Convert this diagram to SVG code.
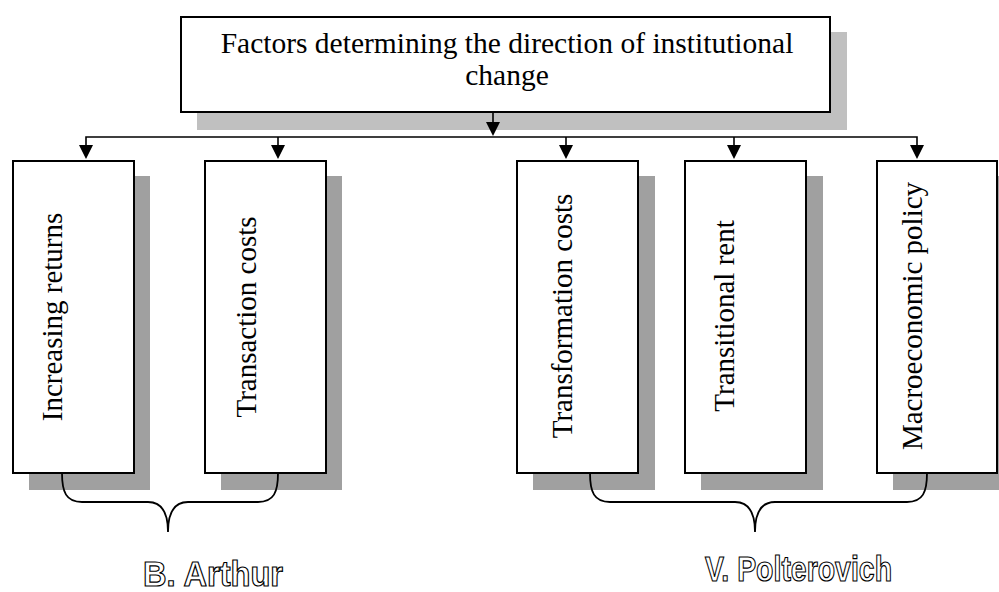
<svg xmlns="http://www.w3.org/2000/svg" width="999" height="592" viewBox="0 0 999 592">
<defs>
<style>
.box{fill:#fff;stroke:#000;stroke-width:2}
.sh{fill:#a0a0a0}
.sht{fill:#c0c0c0}
.t{font-family:"Liberation Serif","Times New Roman",serif;font-size:29.5px;fill:#000}
.v{font-family:"Liberation Serif","Times New Roman",serif;font-size:29px;fill:#000;text-anchor:middle}
.c{fill:none;stroke:#000;stroke-width:1.6}
.br{fill:none;stroke:#000;stroke-width:1.8}
.lab{font-family:"Liberation Sans",Arial,sans-serif;font-size:35px;font-weight:bold;fill:#fff;stroke:#000;stroke-width:1.2}
</style>
</defs>
<rect width="999" height="592" fill="#fff"/>

<g id="top">
<rect class="sht" x="197" y="32" width="650" height="98"/>
<rect class="box" x="181" y="17" width="649" height="95"/>
<text class="t" x="507" y="53" text-anchor="middle">Factors determining the direction of institutional</text>
<text class="t" x="507" y="85" text-anchor="middle">change</text>
</g>

<g id="connectors">
<line class="c" x1="493" y1="112" x2="493" y2="122"/>
<path d="M486,122 L500,122 L493,136 Z" fill="#000"/>
<polyline class="c" points="86,145 86,137 917,137 917,145"/>
<line class="c" x1="278" y1="137" x2="278" y2="145"/>
<line class="c" x1="566" y1="137" x2="566" y2="145"/>
<line class="c" x1="734" y1="137" x2="734" y2="145"/>
<path d="M79,145 L93,145 L86,159 Z M271,145 L285,145 L278,159 Z M559,145 L573,145 L566,159 Z M727,145 L741,145 L734,159 Z M910,145 L924,145 L917,159 Z" fill="#000"/>
</g>

<g id="n1">
<rect class="sh" x="29" y="176" width="121" height="314"/>
<rect class="box" x="13" y="161" width="121" height="312"/>
<text class="v" transform="translate(62,317) rotate(-90)">Increasing returns</text>
</g>
<g id="n2">
<rect class="sh" x="221" y="176" width="121" height="314"/>
<rect class="box" x="205" y="161" width="121" height="312"/>
<text class="v" transform="translate(256,317) rotate(-90)">Transaction costs</text>
</g>
<g id="n3">
<rect class="sh" x="533" y="176" width="122" height="314"/>
<rect class="box" x="517" y="161" width="121" height="312"/>
<text class="v" transform="translate(572,316) rotate(-90)">Transformation costs</text>
</g>
<g id="n4">
<rect class="sh" x="701" y="176" width="122" height="314"/>
<rect class="box" x="685" y="161" width="121" height="312"/>
<text class="v" transform="translate(734,316) rotate(-90)">Transitional rent</text>
</g>
<g id="n5">
<rect class="sh" x="893" y="176" width="122" height="314"/>
<rect class="box" x="877" y="161" width="120" height="312"/>
<text class="v" transform="translate(922,316) rotate(-90)">Macroeconomic policy</text>
</g>

<g id="braces">
<path class="br" d="M62,473 C62,492 66,502 82,502 L148,502 C162,502 168,512 168,532 C168,512 174,502 188,502 L258,502 C274,502 278,492 278,473"/>
<path class="br" d="M590,473 C590,492 594,502 610,502 L735,502 C749,502 755,512 755,532 C755,512 761,502 775,502 L907,502 C923,502 927,492 927,473"/>
</g>

<g id="labels">
<text class="lab" x="143" y="586" textLength="140" lengthAdjust="spacingAndGlyphs">B. Arthur</text>
<text class="lab" x="705" y="581" textLength="187" lengthAdjust="spacingAndGlyphs">V. Polterovich</text>
</g>
</svg>
